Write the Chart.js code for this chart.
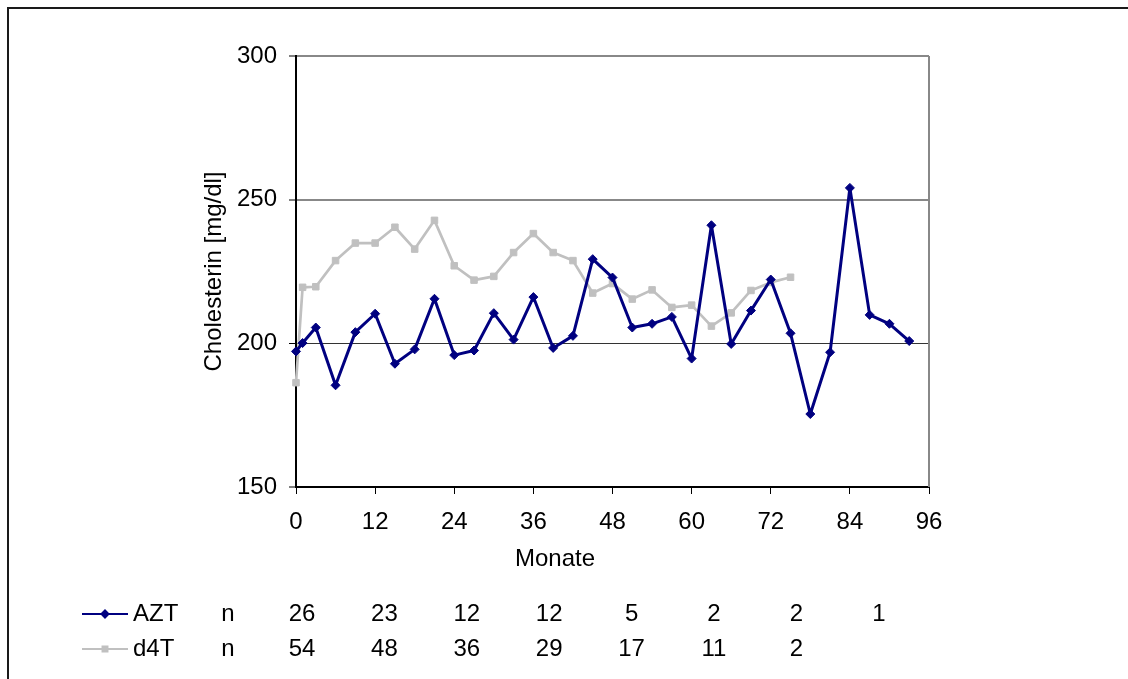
<!DOCTYPE html>
<html lang="de">
<head>
<meta charset="utf-8">
<title>Cholesterin AZT / d4T</title>
<script src="https://cdn.jsdelivr.net/npm/chart.js@4/dist/chart.umd.min.js"></script>
<style>
  html, body { margin: 0; padding: 0; background: #ffffff; }
  canvas { display: block; }
</style>
</head>
<body>
<canvas id="chart" width="1128" height="679"></canvas>
<script>
// Untersuchungszeitpunkte in Monaten
const monate = [0, 1, 3, 6, 9, 12, 15, 18, 21, 24, 27, 30, 33, 36, 39, 42, 45, 48,
                51, 54, 57, 60, 63, 66, 69, 72, 75, 78, 81, 84, 87, 90, 93];

// Mittleres Cholesterin [mg/dl]
const cholAZT = [197.2, 200.1, 205.5, 185.4, 203.9, 210.3, 192.9, 197.9, 215.5, 195.9,
                 197.5, 210.5, 201.3, 216.1, 198.4, 202.6, 229.3, 222.9, 205.5, 206.8,
                 209.2, 194.7, 241.1, 199.8, 211.4, 222.2, 203.5, 175.4, 196.9, 254.1,
                 209.9, 206.8, 200.8];
const cholD4T = [186.3, 219.5, 219.7, 228.8, 234.9, 234.9, 240.4, 232.8, 242.8, 227.0,
                 222.0, 223.3, 231.6, 238.2, 231.6, 228.8, 217.5, 220.8, 215.4, 218.6,
                 212.5, 213.3, 206.0, 210.6, 218.4, 221.2, 223.0];

// Patientenzahlen je Jahr
const nAZT = ['26', '23', '12', '12', '5', '2', '2', '1'];
const nD4T = ['54', '48', '36', '29', '17', '11', '2'];

// Achsenbeschriftung
const xTicks = [0, 12, 24, 36, 48, 60, 72, 84, 96];
const yTicks = [150, 200, 250, 300];
const xTitle = 'Monate';

const FONT = "'Liberation Sans', Arial, sans-serif";
const FONT_SIZE = 24;
const AZT_COLOR = '#000080';
const D4T_COLOR = '#C0C0C0';

const toPoints = (vals) => vals.map((v, i) => ({ x: monate[i], y: v }));

// Rahmen, x-Achsentitel, Legende und n-Tabelle
const extras = {
  id: 'extras',
  afterDraw(chart) {
    const ctx = chart.ctx;
    ctx.save();
    // äußerer Rahmen
    ctx.strokeStyle = '#1a1a1a';
    ctx.lineWidth = 2;
    ctx.beginPath();
    ctx.moveTo(8, 700);
    ctx.lineTo(8, 8);
    ctx.lineTo(1140, 8);
    ctx.stroke();

    // Plotbereich rechts
    const area = chart.chartArea;
    ctx.strokeStyle = '#888888';
    ctx.lineWidth = 2;
    ctx.beginPath();
    ctx.moveTo(area.right, area.top);
    ctx.lineTo(area.right, area.bottom);
    ctx.stroke();

    ctx.font = FONT_SIZE + 'px ' + FONT;
    ctx.textBaseline = 'middle';
    ctx.fillStyle = '#000000';
    ctx.textAlign = 'center';
    ctx.fillText(xTitle, 555, 559);

    const rows = [
      { label: 'AZT', color: AZT_COLOR, style: 'rectRot', n: nAZT, y: 614 },
      { label: 'd4T', color: D4T_COLOR, style: 'rect', n: nD4T, y: 649 }
    ];
    rows.forEach(r => {
      ctx.strokeStyle = r.color;
      ctx.lineWidth = 2;
      ctx.beginPath();
      ctx.moveTo(82, r.y);
      ctx.lineTo(128, r.y);
      ctx.stroke();
      ctx.fillStyle = r.color;
      Chart.helpers.drawPoint(ctx, { pointStyle: r.style, radius: 3.5, borderWidth: 1 }, 105, r.y);
      ctx.fill();

      ctx.fillStyle = '#000000';
      ctx.textAlign = 'left';
      ctx.fillText(r.label, 133, r.y);
      ctx.textAlign = 'center';
      ctx.fillText('n', 228, r.y);
      r.n.forEach((v, i) => {
        ctx.fillText(v, 302 + i * 82.4, r.y);
      });
    });
    ctx.restore();
  }
};

new Chart(document.getElementById('chart'), {
  type: 'line',
  data: {
    datasets: [
      {
        label: 'AZT',
        data: toPoints(cholAZT),
        borderColor: AZT_COLOR,
        backgroundColor: AZT_COLOR,
        borderWidth: 3,
        borderJoinStyle: 'round',
        pointStyle: 'rectRot',
        pointRadius: 4.5,
        pointBorderWidth: 1,
        tension: 0,
        clip: false
      },
      {
        label: 'd4T',
        data: toPoints(cholD4T),
        borderColor: D4T_COLOR,
        backgroundColor: D4T_COLOR,
        borderWidth: 2.7,
        borderJoinStyle: 'round',
        pointStyle: 'rect',
        pointRadius: 4.6,
        pointBorderWidth: 1,
        tension: 0,
        clip: false
      }
    ]
  },
  options: {
    responsive: false,
    animation: false,
    layout: { padding: { left: 198, top: 56, right: 199, bottom: 102 } },
    plugins: {
      legend: { display: false },
      tooltip: { enabled: false }
    },
    scales: {
      x: {
        type: 'linear',
        min: 0,
        max: 96,
        afterFit(scale) { scale.height = 90; },
        afterBuildTicks(scale) { scale.ticks = xTicks.map(v => ({ value: v })); },
        ticks: {
          color: '#000000',
          font: { family: FONT, size: FONT_SIZE },
          padding: 14,
          maxRotation: 0
        },
        grid: {
          drawOnChartArea: false,
          drawTicks: true,
          tickLength: 7,
          tickColor: '#000000',
          tickWidth: 1
        },
        border: { color: '#000000', width: 2 },
        title: { display: false }
      },
      y: {
        min: 150,
        max: 300,
        afterFit(scale) { scale.width = 98; },
        afterBuildTicks(scale) { scale.ticks = yTicks.map(v => ({ value: v })); },
        ticks: {
          color: '#000000',
          font: { family: FONT, size: FONT_SIZE },
          padding: 12
        },
        grid: {
          color: (c) => (c.tick && c.tick.value === 200) ? '#333333' : '#888888',
          lineWidth: (c) => (c.tick && c.tick.value === 200) ? 1 : 2,
          tickLength: 7,
          tickColor: '#000000',
          tickWidth: 1
        },
        border: { color: '#000000', width: 2 },
        title: {
          display: true,
          text: 'Cholesterin [mg/dl]',
          color: '#000000',
          font: { family: FONT, size: FONT_SIZE },
          padding: { top: 2, bottom: 0 }
        }
      }
    }
  },
  plugins: [extras]
});
</script>
</body>
</html>
